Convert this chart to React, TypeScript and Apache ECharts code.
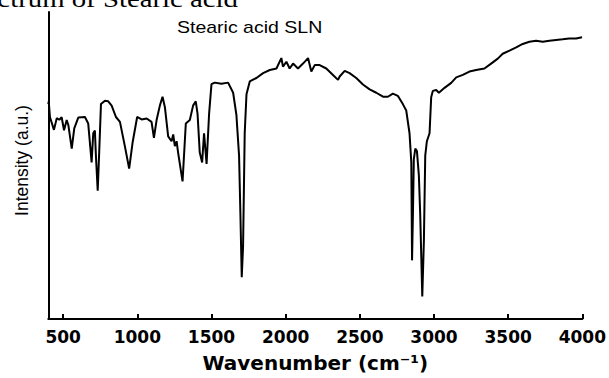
import React, { useEffect, useRef } from "react";
import * as echarts from "echarts";

const wavenumbers = [
  400, 403, 411, 438, 457, 474, 490, 506, 524, 535, 558, 575, 602, 647, 669, 692, 703, 714, 721, 733, 743,
  755, 782, 804, 827, 856, 883, 916, 945, 968, 999, 1029, 1063, 1096, 1112, 1130, 1152, 1170, 1186, 1208,
  1231, 1242, 1253, 1265, 1275, 1305, 1327, 1354, 1376, 1394, 1406, 1421, 1437, 1450, 1467, 1484, 1500,
  1522, 1567, 1612, 1646, 1668, 1686, 1695, 1704, 1713, 1724, 1736, 1758, 1803, 1848, 1893, 1938, 1971,
  1982, 2005, 2027, 2050, 2083, 2117, 2151, 2173, 2196, 2229, 2274, 2319, 2353, 2364, 2398, 2431, 2476,
  2521, 2566, 2611, 2656, 2689, 2723, 2756, 2790, 2813, 2835, 2847, 2852, 2858, 2864, 2874, 2885, 2898,
  2907, 2921, 2932, 2941, 2952, 2970, 2981, 2992, 3015, 3033, 3071, 3116, 3150, 3194, 3239, 3284, 3340,
  3385, 3430, 3463, 3509, 3554, 3598, 3643, 3688, 3733, 3778, 3823, 3867, 3912, 3958, 3998,
];
const intensities = [
  70.0, 70.9, 65.8, 61.6, 65.4, 64.9, 65.7, 61.5, 64.8, 63.2, 55.5, 62.1, 65.6, 65.8, 63.7, 51.0, 60.5, 61.4,
  53.2, 41.8, 54.2, 70.0, 71.1, 70.9, 69.5, 65.8, 64.2, 56.3, 49.0, 57.4, 65.8, 65.0, 65.3, 64.2, 59.0,
  64.8, 69.5, 72.4, 69.0, 59.5, 57.9, 60.1, 56.3, 57.9, 54.2, 44.8, 63.7, 64.8, 69.5, 70.9, 66.9, 54.2,
  51.0, 60.5, 50.5, 66.9, 76.5, 77.0, 76.6, 77.0, 73.7, 66.5, 53.2, 34.2, 13.6, 23.7, 60.5, 73.2, 77.4,
  78.5, 80.1, 81.1, 81.6, 85.0, 82.2, 83.8, 81.6, 83.2, 81.6, 83.2, 85.0, 80.6, 82.7, 82.7, 81.6, 79.5,
  77.9, 79.0, 80.8, 80.1, 78.5, 76.4, 74.8, 73.7, 72.4, 72.4, 73.4, 72.7, 70.0, 67.9, 60.5, 51.0, 19.1,
  34.2, 52.1, 55.5, 54.7, 46.8, 34.2, 7.3, 25.7, 53.2, 57.9, 60.5, 72.2, 74.3, 74.6, 73.7, 75.3, 76.9,
  78.7, 79.5, 80.6, 81.1, 81.6, 83.2, 84.8, 86.4, 87.4, 88.5, 89.6, 90.3, 90.6, 90.3, 90.6, 90.9, 91.1,
  91.4, 91.4, 91.8,
];
const xTickValues = [500, 1000, 1500, 2000, 2500, 3000, 3500, 4000];

const xAxisTitle = "Wavenumber (cm⁻¹)";
const yAxisTitle = "Intensity (a.u.)";
const seriesLabel = "Stearic acid SLN";
const pageHeading = "FTIR spectrum of Stearic acid";

export default function App() {
  const ref = useRef<HTMLDivElement>(null);
  useEffect(() => {
    if (!ref.current) return;
    const chart = echarts.init(ref.current, null, { renderer: "svg" });
    const data = wavenumbers.map((w, i) => [w, intensities[i]]);
    chart.setOption({
      animation: false,
      backgroundColor: "#ffffff",
      grid: { left: 48.3, right: 26, top: 12, bottom: 50, containLabel: false },
      xAxis: {
        type: "value",
        min: 400,
        max: 4000,
        splitLine: { show: false },
        axisLine: { show: true, onZero: false, lineStyle: { color: "#000", width: 2 } },
        axisTick: {
          show: true,
          inside: true,
          length: 5,
          customValues: xTickValues,
          lineStyle: { color: "#000", width: 2 },
        },
        axisLabel: {
          show: true,
          customValues: xTickValues,
          formatter: (v: number) => String(v),
          margin: 9,
          color: "#000",
          fontFamily: "DejaVu Sans",
          fontWeight: "bold",
          fontSize: 17,
        },
        name: xAxisTitle,
        nameLocation: "middle",
        nameGap: 34,
        nameTextStyle: {
          color: "#000",
          fontFamily: "DejaVu Sans",
          fontWeight: "bold",
          fontSize: 20,
        },
      },
      yAxis: {
        type: "value",
        min: 0,
        max: 100,
        splitLine: { show: false },
        axisTick: { show: false },
        axisLabel: { show: false },
        axisLine: { show: true, lineStyle: { color: "#000", width: 2 } },
        name: yAxisTitle,
        nameLocation: "middle",
        nameGap: 17,
        nameTextStyle: {
          color: "#000",
          fontFamily: "Liberation Sans",
          fontSize: 17.5,
          padding: [0, 0, 0, 10],
        },
      },
      graphic: [
        {
          type: "text",
          x: 238,
          y: -1.5,
          scaleX: 1.2,
          style: {
            text: pageHeading,
            fontFamily: "Liberation Serif",
            fontSize: 24,
            fill: "#000",
            textAlign: "right",
            textVerticalAlign: "middle",
          },
        },
        {
          type: "text",
          x: 177,
          y: 28,
          scaleX: 1.22,
          style: {
            text: seriesLabel,
            fontFamily: "Liberation Sans",
            fontSize: 16,
            fill: "#000",
            textAlign: "left",
            textVerticalAlign: "middle",
          },
        },
      ],
      series: [
        {
          type: "line",
          data,
          showSymbol: false,
          symbol: "none",
          lineStyle: { color: "#000", width: 2 },
        },
      ],
    });
    return () => chart.dispose();
  }, []);
  return (
    <div
      ref={ref}
      style={{ position: "absolute", left: 0, top: 0, width: 609, height: 378 }}
    />
  );
}
